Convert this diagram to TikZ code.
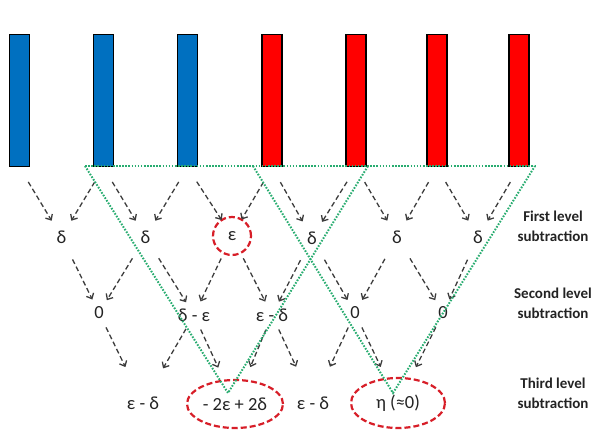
\documentclass[tikz,border=0pt]{standalone}
\usepackage{fontspec}
\setmainfont{Carlito}
\usetikzlibrary{arrows.meta,shapes.geometric}
\definecolor{barblue}{RGB}{0,112,192}
\definecolor{barred}{RGB}{255,0,0}
\definecolor{vgreen}{RGB}{40,172,112}
\definecolor{ellred}{RGB}{215,30,40}
\definecolor{arrgray}{RGB}{60,60,60}
\definecolor{txt}{RGB}{35,35,35}
\begin{document}
\begin{tikzpicture}[x=1pt,y=-1pt,
  barbox/.style={draw=black,line width=1.4pt,minimum width=20pt,minimum height=132pt,inner sep=0pt,anchor=north},
  val/.style={font=\fontsize{18.5}{20}\selectfont,text=txt,inner sep=1pt},
  lvl/.style={font=\bfseries\fontsize{15}{20}\selectfont,text=txt,align=center},
  sub/.style={draw=arrgray,line width=1.3pt,dash pattern=on 5pt off 3pt,-{Straight Barb[length=4.5pt,width=8pt]}},
  a1/.style={sub,shorten <=17pt,shorten >=19pt},
  a2/.style={sub,shorten <=25pt,shorten >=15pt},
  a3/.style={sub,shorten <=16pt,shorten >=40pt},
  ring/.style={draw=ellred,line width=2.2pt,dash pattern=on 6pt off 3pt},
  grn/.style={draw=vgreen,line width=2pt,dash pattern=on 1.6pt off 1.5pt}
]
\useasboundingbox (0,0) rectangle (595,436);
% bars
\node[barbox,fill=barblue] (b1) at (19.5,34) {};
\node[barbox,fill=barblue] (b2) at (103.5,34) {};
\node[barbox,fill=barblue] (b3) at (187.5,34) {};
\node[barbox,fill=barred] (b4) at (272,34) {};
\node[barbox,fill=barred] (b5) at (356,34) {};
\node[barbox,fill=barred] (b6) at (437,34) {};
\node[barbox,fill=barred] (b7) at (519,34) {};
% first level
\node[val] (r1) at (61.5,237) {δ};
\node[val] (r2) at (145.5,237) {δ};
\node[val,circle,ring,minimum size=38pt] (r3) at (232,236) {ε};
\node[val] (r4) at (312,238) {δ};
\node[val] (r5) at (397,237) {δ};
\node[val] (r6) at (478,237) {δ};
% second level
\node[val] (s1) at (99,313) {0};
\node[val] (s2) at (194,315) {δ - ε};
\node[val] (s3) at (272,315) {ε - δ};
\node[val] (s4) at (355,313) {0};
\node[val] (s5) at (443,313) {0};
% third level
\node[val] (t1) at (143,403) {ε - δ};
\node[val,ellipse,ring,inner sep=0pt,minimum width=96pt,minimum height=48pt] (t2) at (235,404) {- 2ε + 2δ};
\node[val] (t3) at (313,403) {ε - δ};
\node[val,ellipse,ring,inner sep=0pt,minimum width=94pt,minimum height=50pt] (t4) at (398,403) {η (≈0)};
% arrows bars -> first level
\draw[a1] (b1.south) -- (r1.center);
\draw[a1] (b2.south) -- (r1.center);
\draw[a1] (b2.south) -- (r2.center);
\draw[a1] (b3.south) -- (r2.center);
\draw[a1] (b3.south) -- (r3.center);
\draw[a1] (b4.south) -- (r3.center);
\draw[a1] (b4.south) -- (r4.center);
\draw[a1] (b5.south) -- (r4.center);
\draw[a1] (b5.south) -- (r5.center);
\draw[a1] (b6.south) -- (r5.center);
\draw[a1] (b6.south) -- (r6.center);
\draw[a1] (b7.south) -- (r6.center);
% first -> second
\draw[a2] (r1.center) -- (s1.center);
\draw[a2] (r2.center) -- (s1.center);
\draw[a2] (r2.center) -- (s2.center);
\draw[a2] (r3.center) -- (s2.center);
\draw[a2] (r3.center) -- (s3.center);
\draw[a2] (r4.center) -- (s3.center);
\draw[a2] (r4.center) -- (s4.center);
\draw[a2] (r5.center) -- (s4.center);
\draw[a2] (r5.center) -- (s5.center);
\draw[a2] (r6.center) -- (s5.center);
% second -> third
\draw[a3] (s1.center) -- (t1.center);
\draw[a3] (s2.center) -- (t1.center);
\draw[a3] (s2.center) -- (t2.center);
\draw[a3] (s3.center) -- (t2.center);
\draw[a3] (s3.center) -- (t3.center);
\draw[a3] (s4.center) -- (t3.center);
\draw[a3] (s4.center) -- (t4.center);
\draw[a3] (s5.center) -- (t4.center);
% green dotted V's
\coordinate (g1) at (85,166);
\coordinate (g2) at (253,166);
\coordinate (g3) at (368,166);
\coordinate (g4) at (535,166);
\coordinate (ga) at (228,393);
\coordinate (gb) at (393,393);
\draw[grn] (g1) -- (g4);
\draw[grn] (g1) -- (ga) -- (g3);
\draw[grn] (g2) -- (gb) -- (g4);
% level labels
\node[lvl] (L1) at (553,226) {First level\\subtraction};
\node[lvl] (L2) at (553,303) {Second level\\subtraction};
\node[lvl] (L3) at (553,393) {Third level\\subtraction};
\end{tikzpicture}
\end{document}
